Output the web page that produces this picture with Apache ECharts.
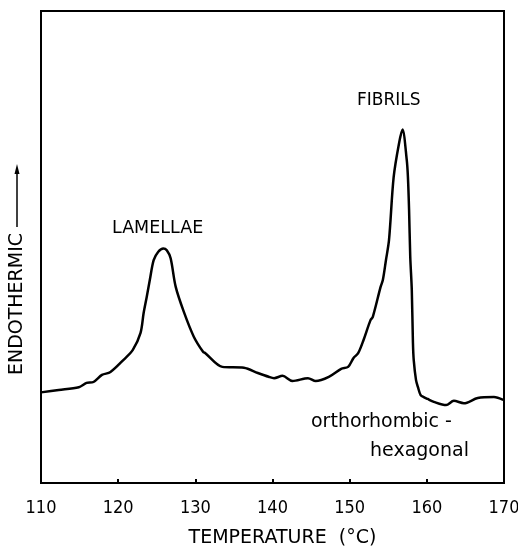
<!DOCTYPE html>
<html>
<head>
<meta charset="utf-8">
<script src="https://cdn.jsdelivr.net/npm/echarts@6/dist/echarts.min.js"></script>
<style>html,body{margin:0;padding:0;background:#fff;}#c{width:518px;height:550px;}</style>
</head>
<body>
<div id="c"></div>
<script>
var temperature = [110.0,112.3,114.9,115.9,116.8,117.9,119.0,120.7,121.9,122.9,123.3,123.7,124.1,124.6,125.2,125.85,126.3,126.8,127.45,128.5,129.8,131.0,131.3,133.5,136.3,138.1,139.5,140.2,141.3,142.6,144.6,145.6,147.3,148.9,149.8,150.5,151.1,151.8,152.7,153.0,154.0,154.3,154.7,155.1,155.7,156.4,156.85,157.4,157.55,157.7,157.85,158.05,158.2,158.3,158.6,158.85,159.2,159.6,160.1,160.9,162.5,163.5,164.8,166.6,168.7,169.9];
var endotherm = [19.2,19.7,20.3,21.2,21.4,22.9,23.5,26.1,28.2,31.8,36.0,39.4,43.0,47.2,49.0,49.7,49.3,47.6,41.6,36.3,31.0,27.8,27.5,24.6,24.4,23.3,22.5,22.2,22.7,21.6,22.2,21.6,22.5,24.2,24.6,26.5,27.5,30.3,34.5,35.2,41.5,43.0,47.2,51.5,64.8,72.0,74.9,68.4,64.8,57.8,48.0,40.9,29.7,26.1,21.8,20.3,18.6,18.2,17.8,17.2,16.5,17.4,16.9,18.0,18.2,17.6];
var xTicks = [110,120,130,140,150,160,170];
var peakLabels = ['LAMELLAE','FIBRILS'];
var transitionLabels = ['orthorhombic -','hexagonal'];
var xTitle = 'TEMPERATURE  (°C)';
var yTitle = 'ENDOTHERMIC';

var data = temperature.map(function(t,i){return [t, endotherm[i]];});
var FONT = '"DejaVu Sans",sans-serif';
var FONTC = '"Liberation Sans Narrow","DejaVu Sans Condensed","DejaVu Sans",sans-serif';
var chart = echarts.init(document.getElementById('c'), null, {renderer:'canvas'});
chart.setOption({
  animation:false,
  backgroundColor:'#fff',
  grid:{left:41,right:14,top:11,bottom:67,outerBoundsMode:'none',containLabel:false,show:true,borderColor:'#000',borderWidth:2,backgroundColor:'transparent'},
  xAxis:{type:'value',min:110,max:170,interval:10,
    axisLine:{show:true,lineStyle:{color:'#000',width:2}},
    axisTick:{show:true,inside:true,length:4,lineStyle:{color:'#000',width:2}},
    splitLine:{show:false},
    axisLabel:{color:'#000',fontSize:18,fontFamily:FONTC,margin:16,
      formatter:function(v){return xTicks.indexOf(v)>=0?String(v):'';}},
    name:xTitle,nameLocation:'middle',nameGap:46,
    nameTextStyle:{color:'#000',fontSize:19,fontFamily:FONT,padding:[0,0,0,20]}
  },
  yAxis:{type:'value',min:0,max:100,
    axisLine:{show:true,lineStyle:{color:'#000',width:2}},
    axisTick:{show:false},axisLabel:{show:false},splitLine:{show:false}},
  series:[{type:'line',data:data,showSymbol:false,smooth:0.3,
    lineStyle:{color:'#000',width:2.5},z:3}],
  graphic:[
    {type:'text',left:112,top:219,style:{text:peakLabels[0],fill:'#000',font:'17.5px '+FONT}},
    {type:'text',left:357,top:92,style:{text:peakLabels[1],fill:'#000',font:'17px '+FONT}},
    {type:'text',left:311,top:413,style:{text:transitionLabels[0],fill:'#000',font:'19px '+FONT}},
    {type:'text',left:370,top:442,style:{text:transitionLabels[1],fill:'#000',font:'19px '+FONT}},
    {type:'text',x:17,y:304,rotation:Math.PI/2,style:{text:yTitle,fill:'#000',font:'19px '+FONT,align:'center',verticalAlign:'middle'}},
    {type:'line',shape:{x1:17,y1:227,x2:17,y2:171},style:{stroke:'#000',lineWidth:1.5}},
    {type:'polygon',shape:{points:[[17,164],[14.5,174],[19.5,174]]},style:{fill:'#000'}}
  ]
});
</script>
</body>
</html>
